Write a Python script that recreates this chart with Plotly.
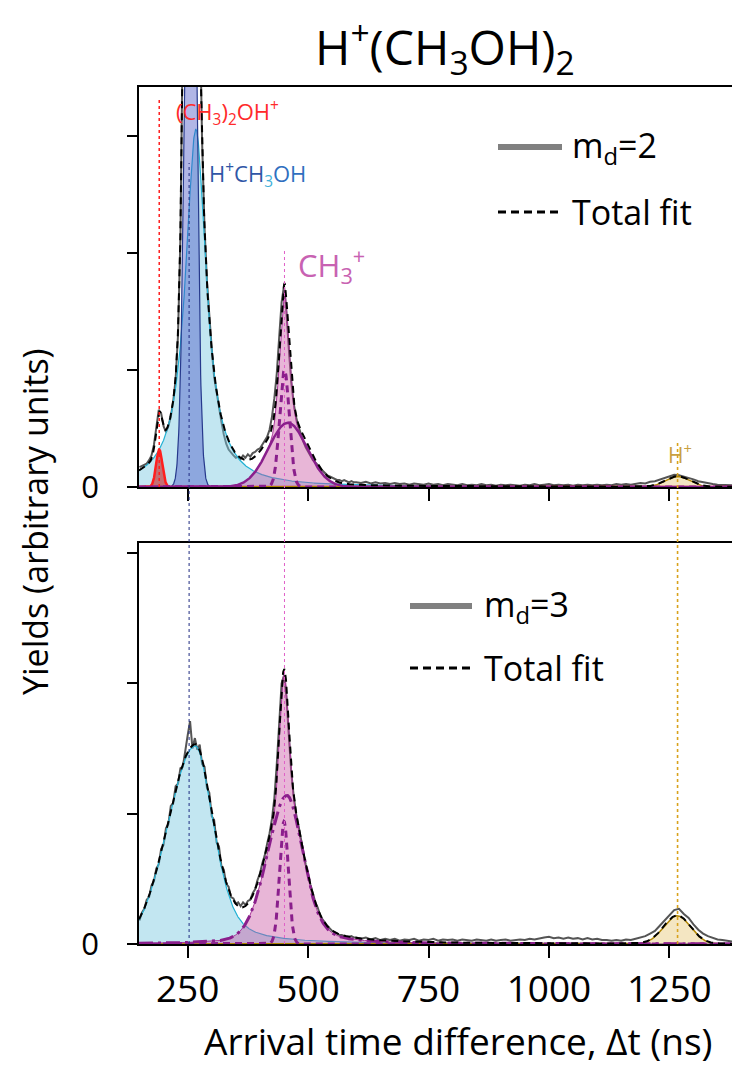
import numpy as np
import plotly.graph_objects as go

t_data = list(range(150, 600, 5)) + list(range(600, 1390, 10))

y_md2 = [17, 18, 19, 20, 23, 27, 36, 52, 66, 63,
         52, 47, 52, 60, 73, 92, 130, 214, 362, 580,
         800, 950, 930, 790, 590, 415, 295, 222, 176, 142,
         118, 94, 81, 65, 56, 45, 37, 32, 29, 27,
         25, 26, 24, 27, 25, 28, 26, 29, 30, 32,
         33, 36, 39, 43, 49, 60, 76, 97, 128, 158,
         172, 150, 118, 90, 72, 60, 52, 45, 39, 34,
         30, 26, 23, 21, 19, 16, 14, 12, 10, 9,
         8, 7, 6, 6, 5, 6, 5, 4, 5, 4,
         4, 3.5, 4.5, 3, 4, 3, 3.5, 2.5, 3.5, 2.5,
         3, 2, 3, 2.5, 2, 3, 2, 2.5, 1.5, 2.5,
         2, 1.5, 2.5, 1.5, 2, 1.5, 2.5, 1.5, 2, 1,
         2, 1.5, 2, 1.5, 1, 2, 1.5, 2.5, 1.5, 2,
         2.5, 1.5, 2, 1.5, 2, 1, 2, 1.5, 2, 1.5,
         2, 1.5, 2, 1.5, 2.5, 2, 2.5, 2, 3, 3.5,
         3, 4.5, 5, 6.5, 8, 9, 10.5, 10, 9, 8,
         6.5, 5, 4, 3, 2.5, 2, 2, 1.5, 1.5]

y_md3 = [18, 24, 27, 34, 36, 45, 48, 58, 61, 73,
         76, 89, 92, 106, 108, 121, 123, 135, 136, 150,
         160, 171, 150, 158, 149, 153, 138, 136, 120, 116,
         98, 95, 78, 75, 60, 57, 46, 44, 36, 35,
         31, 32, 29, 32, 30, 33, 34, 39, 42, 49,
         54, 62, 68, 77, 85, 96, 112, 138, 172, 200,
         206, 190, 160, 132, 114, 100, 91, 80, 71, 61,
         54, 45, 39, 32, 28, 22, 19, 16, 14, 12,
         10, 9, 8, 7, 7, 6, 6, 5, 6, 5,
         5, 4, 5, 3.5, 4.5, 3, 4, 3, 4, 2.5,
         3.5, 3, 4, 2.5, 3.5, 3, 4, 2.5, 3.5, 3,
         3.5, 2.5, 3.5, 3, 2.5, 3.5, 3, 2.5, 3.5, 2.5,
         3, 3.5, 2.5, 3, 3.5, 3, 4, 3.5, 4.5, 5,
         5.5, 4.5, 5, 4, 5, 4, 4.5, 3.5, 4.5, 3.5,
         4, 3, 3, 2.5, 3, 2.5, 3.5, 3, 4, 5,
         6, 8, 10, 14, 18, 22, 26, 27, 23, 20,
         15, 11, 8, 6, 4.5, 3.5, 3, 2.5, 2]

# ---------------- fitted peak parameters ----------------
# top panel (m_d = 2): (CH3)2OH+, H+CH3OH narrow, H+CH3OH broad, CH3+ narrow, CH3+ broad, CH3+ core, H+
top_centers = [191, 256, 267, 451, 458, 451, 1267]
top_wl = [7.65, 12.4, 26, 11.8, 47, 4, 29.4]
top_wr = [7.65, 12.4, 26, 11.8, 47, 4, 29.4]
top_etal = [0, 0, 1, 0, 0, 1, 0]
top_etar = [0, 0, 1, 0, 0, 1, 0]
top_heights = [32, 700, 306, 100, 55, 14, 9]

# bottom panel (m_d = 3): H+CH3OH, CH3+ narrow, CH3+ broad, H+
bot_centers = [266, 450, 456, 1266]
bot_wl = [67, 10.6, 48, 33]
bot_wr = [45, 10.6, 40, 33]
bot_etal = [0, 0, 0.2, 0]
bot_etar = [0.5, 0, 0.4, 0]
bot_heights = [152, 94, 114, 21.7]

# reference lines (ns)
ref_lines = [191, 253, 451, 1267]
x_ticks = [250, 500, 750, 1000, 1250]
x_range = [149, 1380]
y_top_range = [0, 342.2]
y_bot_range = [0, 307.7]
y_ticks = [0, 100, 200, 300]

t_fit = np.arange(149, 1381, 0.5)


def peak(c, wl, wr, el, er, h):
    d = t_fit - c
    w = np.where(d < 0, wl, wr)
    e = np.where(d < 0, el, er)
    u = (d / w) ** 2
    return h * (e / (1 + u) + (1 - e) * np.exp(-np.log(2) * u))


top = [peak(*p) for p in zip(top_centers, top_wl, top_wr, top_etal, top_etar, top_heights)]
bot = [peak(*p) for p in zip(bot_centers, bot_wl, bot_wr, bot_etal, bot_etar, bot_heights)]

# ---------------- geometry helpers ----------------
L, R, T, B = 139, 0, 87, 127
W, H = 732, 1071
PW, PH = W - L - R, H - T - B


def X(px):
    return (px - L) / PW


def Y(py):
    return (H - B - py) / PH


top_dom = [Y(487), 1]
bot_dom = [0, Y(543)]

GRAY = "#555555"
LB_FILL = "rgba(120,200,225,0.45)"
LB_LINE = "#22b1d4"
DB_FILL = "rgba(70,80,195,0.42)"
DB_LINE = "#26398c"
RED = "#ff1f1f"
PINK_FILL = "rgba(200,80,160,0.42)"
PINK_LINE = "#a8369a"
PURPLE = "#8a1f8c"
GOLD_FILL = "rgba(230,200,120,0.45)"
GOLD_LINE = "#b08400"

fig = go.Figure()


def add(y, xa, ya, **kw):
    fig.add_trace(go.Scatter(x=t_fit, y=y, xaxis=xa, yaxis=ya, mode="lines",
                             hoverinfo="skip", **kw))


# ---- top panel ----
fig.add_trace(go.Scatter(x=t_data, y=y_md2, xaxis="x", yaxis="y", mode="lines",
                         line=dict(color=GRAY, width=2), hoverinfo="skip"))
add(top[2], "x", "y", fill="tozeroy", fillcolor=LB_FILL, line=dict(color=LB_LINE, width=1.2))
add(top[1], "x", "y", fill="tozeroy", fillcolor=DB_FILL, line=dict(color=DB_LINE, width=1.2))
add(top[0], "x", "y", fill="tozeroy", fillcolor="rgba(200,30,30,0.6)", line=dict(color=RED, width=2.5))
add(top[3] + top[4] + top[5], "x", "y", fill="tozeroy", fillcolor=PINK_FILL,
    line=dict(color=PINK_LINE, width=1))
add(top[6], "x", "y", fill="tozeroy", fillcolor=GOLD_FILL, line=dict(color=GOLD_LINE, width=1.5))
add(top[4], "x", "y", line=dict(color=PURPLE, width=2.5))
add(top[3], "x", "y", line=dict(color=PURPLE, width=3, dash="7px,5px"))
add(sum(top), "x", "y", line=dict(color="black", width=2, dash="7px,5px"))

# ---- bottom panel ----
fig.add_trace(go.Scatter(x=t_data, y=y_md3, xaxis="x2", yaxis="y2", mode="lines",
                         line=dict(color=GRAY, width=2), hoverinfo="skip"))
add(bot[0], "x2", "y2", fill="tozeroy", fillcolor=LB_FILL, line=dict(color=LB_LINE, width=1.2))
add(bot[1] + bot[2], "x2", "y2", fill="tozeroy", fillcolor=PINK_FILL,
    line=dict(color=PINK_LINE, width=1))
add(bot[3], "x2", "y2", fill="tozeroy", fillcolor=GOLD_FILL, line=dict(color=GOLD_LINE, width=1.5))
add(bot[2], "x2", "y2", line=dict(color=PURPLE, width=3, dash="14px,5px,3px,5px"))
add(bot[1], "x2", "y2", line=dict(color=PURPLE, width=3, dash="7px,5px"))
add(sum(bot), "x2", "y2", line=dict(color="black", width=2, dash="7px,5px"))

# ---- vertical reference lines ----
line_specs = [(ref_lines[0], 97, 487, RED, 1.5),
              (ref_lines[1], 163, 944, "#1f2a80", 1),
              (ref_lines[2], 248, 944, "#e060c8", 1),
              (ref_lines[3], 443, 944, "#d9a21c", 1.6)]
shapes = []
for xv, p0, p1, col, wd in line_specs:
    shapes.append(dict(type="line", xref="x", yref="paper", x0=xv, x1=xv,
                       y0=Y(p1), y1=Y(p0), line=dict(color=col, width=wd, dash="dot")))

# ---- legend glyphs ----
shapes += [
    dict(type="line", xref="paper", yref="paper", x0=X(498), x1=X(562), y0=Y(147), y1=Y(147),
         line=dict(color="#808080", width=6)),
    dict(type="line", xref="paper", yref="paper", x0=X(498), x1=X(562), y0=Y(212), y1=Y(212),
         line=dict(color="black", width=3, dash="8px,5px")),
    dict(type="line", xref="paper", yref="paper", x0=X(410), x1=X(472), y0=Y(606), y1=Y(606),
         line=dict(color="#808080", width=6)),
    dict(type="line", xref="paper", yref="paper", x0=X(410), x1=X(472), y0=Y(668), y1=Y(668),
         line=dict(color="black", width=3, dash="8px,5px")),
]

FONT = "Open Sans"


def ann(px, py, text, size, color="black", xanchor="left", angle=0):
    return dict(x=X(px), y=Y(py), xref="paper", yref="paper", text=text, showarrow=False,
                xanchor=xanchor, yanchor="middle", textangle=angle,
                font=dict(family=FONT, size=size, color=color))


annotations = [
    ann(445, 47, "H<sup>+</sup>(CH<sub>3</sub>OH)<sub>2</sub>", 48, xanchor="center"),
    ann(458, 1040, "Arrival time difference, Δt (ns)", 37, xanchor="center"),
    ann(35, 522, "Yields (arbitrary units)", 34, xanchor="center", angle=-90),
    ann(174, 112, "(CH<sub>3</sub>)<sub>2</sub>OH<sup>+</sup>", 22, color="#ff2a2a"),
    ann(207, 175, "<span style='color:#2f56a6'>H<sup>+</sup>CH</span><sub><span style='color:#3fb0d9'>3</span></sub>"
                  "<span style='color:#2f6fc0'>OH</span>", 22),
    ann(296, 265, "CH<sub>3</sub><sup>+</sup>", 31, color="#c862b2"),
    ann(666, 453, "H<sup>+</sup>", 21, color="#c9a040"),
    ann(570, 147, "m<sub>d</sub>=2", 34),
    ann(570, 212, "Total fit", 34),
    ann(482, 606, "m<sub>d</sub>=3", 34),
    ann(482, 668, "Total fit", 34),
]

xcommon = dict(range=x_range, showline=True, linecolor="black", linewidth=1.5, mirror=True,
               ticks="outside", ticklen=12, tickwidth=1.5, tickcolor="black", tickvals=x_ticks,
               showgrid=False, zeroline=False)
ycommon = dict(showline=True, linecolor="black", linewidth=1.5, ticks="outside", ticklen=10,
               tickwidth=1.5, tickcolor="black", tickvals=y_ticks, ticktext=["0", "", "", ""],
               showgrid=False, zeroline=False, tickfont=dict(family=FONT, size=31),
               ticklabelstandoff=22)

fig.update_layout(
    width=W, height=H, margin=dict(l=L, r=R, t=T, b=B), showlegend=False,
    plot_bgcolor="white", paper_bgcolor="white",
    font=dict(family=FONT, color="black"),
    xaxis=dict(domain=[0, 1], anchor="y", showticklabels=False, **xcommon),
    yaxis=dict(domain=top_dom, anchor="x", range=y_top_range, **ycommon),
    xaxis2=dict(domain=[0, 1], anchor="y2", showticklabels=True,
                tickfont=dict(family=FONT, size=37), **xcommon),
    yaxis2=dict(domain=bot_dom, anchor="x2", range=y_bot_range, **ycommon),
    shapes=shapes, annotations=annotations,
)

fig.write_html("out.html")
